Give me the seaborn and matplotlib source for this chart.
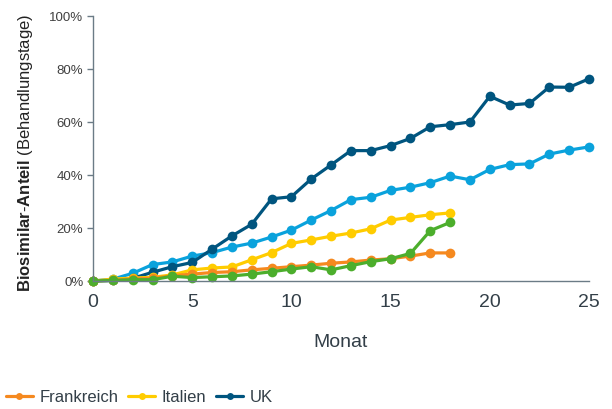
import numpy as np
import pandas as pd
import matplotlib
matplotlib.use('Agg')
import matplotlib.pyplot as plt
import seaborn as sns

## data (share in %)
months_long = list(range(0, 26))
months_short = list(range(0, 19))

uk = [0, 0.2, 1.0, 3.3, 5.4, 7.0, 12.0, 17.0, 21.4, 31.0, 31.8, 38.5, 43.8,
      49.2, 49.2, 51.1, 53.8, 58.2, 59.0, 60.0, 69.7, 66.4, 67.0, 73.2, 73.1, 76.3]
light_blue = [0, 0.7, 2.9, 6.2, 7.2, 9.4, 10.7, 12.8, 14.3, 16.6, 19.2, 23.0, 26.6,
              30.7, 31.6, 34.2, 35.4, 37.1, 39.6, 38.2, 42.1, 43.9, 44.2, 47.9, 49.4, 50.6]
italien = [0, 0.7, 1.1, 1.4, 2.3, 4.2, 4.9, 5.3, 8.0, 10.7, 14.2, 15.5, 16.9,
           18.1, 19.7, 23.0, 24.0, 25.0, 25.7]
frankreich = [0, 0.3, 0.8, 1.0, 2.0, 2.6, 3.2, 3.5, 4.2, 4.8, 5.4, 6.0, 6.7,
              7.2, 7.9, 8.4, 9.4, 10.6, 10.6]
green = [0, 0.2, 0.5, 0.5, 1.8, 1.3, 1.6, 1.9, 2.6, 3.5, 4.5, 5.4, 4.2,
         5.8, 7.3, 8.4, 10.4, 19.0, 22.1]

COL_UK = '#00557f'
COL_LB = '#0aa2dc'
COL_IT = '#ffcc00'
COL_FR = '#f5891f'
COL_GR = '#4cae2c'
SPINE = '#6b7b86'
TEXT = '#333f48'

sns.set_style('ticks')
plt.rcParams['font.family'] = ['Liberation Sans', 'DejaVu Sans']
plt.rcParams['mathtext.fontset'] = 'custom'
plt.rcParams['mathtext.rm'] = 'Liberation Sans'
plt.rcParams['mathtext.bf'] = 'Liberation Sans:bold'

fig = plt.figure(figsize=(6.12, 4.10), dpi=100)
ax = fig.add_axes([93 / 612, 1 - 282 / 410, (589 - 93) / 612, (282 - 17) / 410])

series = [
    ('_lb', months_long, light_blue, COL_LB),
    ('UK', months_long, uk, COL_UK),
    ('Italien', months_short, italien, COL_IT),
    ('Frankreich', months_short, frankreich, COL_FR),
    ('_gr', months_short, green, COL_GR),
]
handles = {}
for name, xs, ys, col in series:
    df = pd.DataFrame({'Monat': xs, 'Anteil': np.array(ys) / 100.0})
    sns.lineplot(data=df, x='Monat', y='Anteil', ax=ax, color=col, linewidth=2.3,
                 marker='o', markersize=7, markeredgewidth=0, clip_on=False,
                 legend=False)
    handles[name] = ax.lines[-1]

ax.set_xlim(0, 25)
ax.set_ylim(0, 1)
ax.set_xticks([0, 5, 10, 15, 20, 25])
ax.set_yticks(np.arange(0, 1.01, 0.2))
ax.set_yticklabels(['{:.0f}%'.format(v * 100) for v in np.arange(0, 1.01, 0.2)])

ax.tick_params(axis='x', length=0, pad=9, labelsize=14, labelcolor=TEXT)
ax.tick_params(axis='y', length=4, width=1, color=SPINE, pad=3, labelsize=9.5,
               labelcolor='#404040')
for s in ['top', 'right']:
    ax.spines[s].set_visible(False)
for s in ['left', 'bottom']:
    ax.spines[s].set_color(SPINE)
    ax.spines[s].set_linewidth(1)

ax.set_xlabel('Monat', fontsize=14, color=TEXT, labelpad=16)
ax.set_ylabel('')
fig.text(0.041, 1 - 153 / 410, r'$\bf{Biosimilar}$-$\bf{Anteil}$ (Behandlungstage)',
         rotation=90, ha='center', va='center', fontsize=12, color='#222222')

leg = fig.legend([handles['Frankreich'], handles['Italien'], handles['UK']],
                 ['Frankreich', 'Italien', 'UK'],
                 loc='center left', bbox_to_anchor=(-0.004, 1 - 398 / 410),
                 ncol=3, frameon=False, fontsize=12, borderpad=0,
                 handlelength=1.6, handletextpad=0.4, columnspacing=0.6)
for t in leg.get_texts():
    t.set_color(TEXT)
for h in leg.legend_handles:
    h.set_markersize(5)

fig.savefig('out.png', dpi=100)
